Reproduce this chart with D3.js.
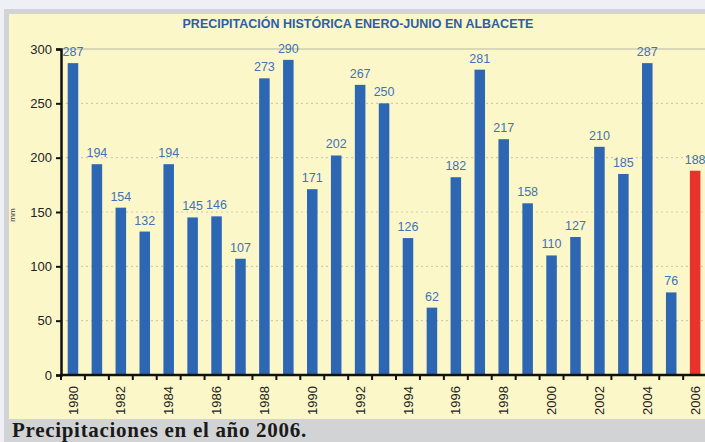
<!DOCTYPE html>
<html>
<head>
<meta charset="utf-8">
<script src="https://cdn.jsdelivr.net/npm/d3@7"></script>
<style>
  html, body { margin: 0; padding: 0; background: #eef0f6; }
  svg { display: block; }
</style>
</head>
<body>
<div id="chart"></div>
<script>
// data
const years = [1980, 1981, 1982, 1983, 1984, 1985, 1986, 1987, 1988, 1989, 1990, 1991, 1992, 1993,
               1994, 1995, 1996, 1997, 1998, 1999, 2000, 2001, 2002, 2003, 2004, 2005, 2006];
const rain = [287, 194, 154, 132, 194, 145, 146, 107, 273, 290, 171, 202, 267, 250,
              126, 62, 182, 281, 217, 158, 110, 127, 210, 185, 287, 76, 188];
const yTicks = [0, 50, 100, 150, 200, 250, 300];
const labelYears = years.filter(function(y) { return y % 2 === 0; });
const highlightYear = 2006;

const width = 705, height = 442;
const svg = d3.select('#chart').append('svg').attr('width', width).attr('height', height);

// frame: light strip, grey border, cream panel, grey caption strip
svg.append('rect').attr('x', 0).attr('y', 0).attr('width', width).attr('height', height).attr('fill', '#eef0f6');
svg.append('rect').attr('x', 4).attr('y', 9).attr('width', width - 4).attr('height', height - 9).attr('fill', '#d2d3d5');
svg.append('rect').attr('x', 9).attr('y', 14).attr('width', width - 9).attr('height', 405).attr('fill', '#fcf7c9');

svg.append('text')
  .attr('x', 12).attr('y', 437)
  .style('font-family', '"Liberation Serif", "Times New Roman", serif')
  .style('font-weight', 'bold').style('font-size', '21px')
  .style('letter-spacing', '0.7px')
  .attr('fill', '#1a1a1a')
  .text('Precipitaciones en el año 2006.');

svg.append('text')
  .attr('x', 358).attr('y', 28)
  .attr('text-anchor', 'middle')
  .style('font-family', '"Liberation Sans", Arial, sans-serif')
  .style('font-weight', 'bold').style('font-size', '12.5px')
  .attr('fill', '#2c5ea6')
  .text('PRECIPITACIÓN HISTÓRICA ENERO-JUNIO EN ALBACETE');

const x0 = 61, y0 = 375;
const x = d3.scaleBand().domain(years).range([x0, x0 + 27 * 23.93]).paddingInner(0.56).paddingOuter(0.28);
const y = d3.scaleLinear().domain([0, 300]).range([y0, 49]);

const chart = svg.append('g');

// grid
chart.selectAll('line.grid').data(yTicks.filter(function(t) { return t > 0 && t < 300; })).enter()
  .append('line')
  .attr('x1', x0).attr('x2', width)
  .attr('y1', function(d) { return y(d); }).attr('y2', function(d) { return y(d); })
  .attr('stroke', '#cfcab0').attr('stroke-width', 1.2).attr('stroke-dasharray', '2,3');
chart.append('line')
  .attr('x1', x0).attr('x2', width).attr('y1', y(300)).attr('y2', y(300))
  .attr('stroke', '#b8b8a8').attr('stroke-width', 1);

// bars
chart.selectAll('rect.bar').data(years).enter()
  .append('rect')
  .attr('x', function(d) { return x(d); })
  .attr('width', x.bandwidth())
  .attr('y', function(d, i) { return y(rain[i]); })
  .attr('height', function(d, i) { return y0 - y(rain[i]); })
  .attr('fill', function(d) { return d === highlightYear ? '#e8322c' : '#2d66b3'; });

// value labels
chart.selectAll('text.val').data(years).enter()
  .append('text')
  .attr('x', function(d) { return x(d) + x.bandwidth() / 2; })
  .attr('y', function(d, i) { return y(rain[i]) - 7; })
  .attr('text-anchor', 'middle')
  .style('font-family', '"Liberation Sans", Arial, sans-serif')
  .style('font-size', '12.5px')
  .attr('fill', '#3f72b8')
  .text(function(d, i) { return rain[i]; });

// y axis
const yAxis = chart.append('g').attr('transform', 'translate(' + x0 + ',0)')
  .call(d3.axisLeft(y).tickValues(yTicks).tickSize(5).tickPadding(4));
yAxis.select('.domain').attr('stroke', '#111').attr('stroke-width', 2.5);
yAxis.selectAll('.tick line').attr('stroke', '#111').attr('stroke-width', 2);
yAxis.selectAll('.tick text')
  .style('font-family', '"Liberation Sans", Arial, sans-serif')
  .style('font-size', '13px').attr('fill', '#222');

// x axis
const xAxis = chart.append('g').attr('transform', 'translate(0,' + y0 + ')')
  .call(d3.axisBottom(x).tickValues(labelYears).tickSize(0).tickPadding(8));
xAxis.select('.domain').remove();
chart.append('line').attr('x1', x0 - 1).attr('x2', width).attr('y1', y0).attr('y2', y0)
  .attr('stroke', '#111').attr('stroke-width', 2.5);
chart.selectAll('line.xtick').data(years).enter()
  .append('line')
  .attr('x1', function(d) { return x(d) - x.step() * x.paddingInner() / 2; })
  .attr('x2', function(d) { return x(d) - x.step() * x.paddingInner() / 2; })
  .attr('y1', y0).attr('y2', y0 + 5)
  .attr('stroke', '#111').attr('stroke-width', 2);
xAxis.selectAll('.tick text')
  .attr('transform', 'rotate(-90)')
  .attr('text-anchor', 'end')
  .attr('x', -11).attr('y', 0).attr('dy', '0.35em')
  .style('font-family', '"Liberation Sans", Arial, sans-serif')
  .style('font-size', '13px').attr('fill', '#222');

svg.append('text')
  .attr('transform', 'translate(15,215) rotate(-90)')
  .attr('text-anchor', 'middle')
  .style('font-family', '"Liberation Sans", Arial, sans-serif')
  .style('font-size', '8px').attr('fill', '#333')
  .text('mm');
</script>
</body>
</html>
